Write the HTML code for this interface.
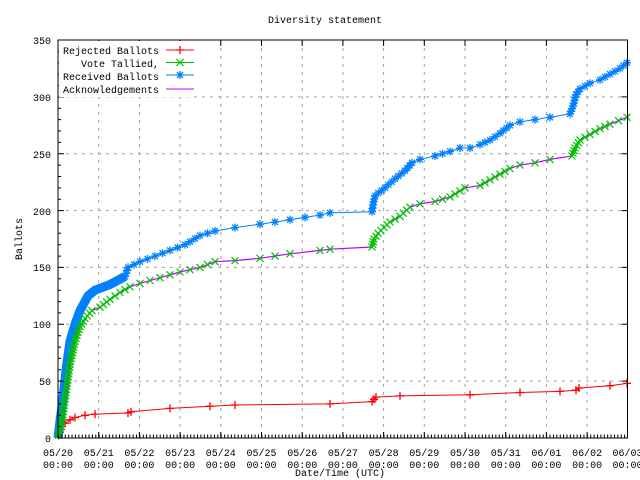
<!DOCTYPE html>
<html><head><meta charset="utf-8"><style>
body{margin:0;background:#fff}
svg{display:block;font-family:"Liberation Mono","DejaVu Sans Mono",monospace;font-size:10px}
</style></head><body>
<svg id="s" width="640" height="480" viewBox="0 0 640 480" xmlns="http://www.w3.org/2000/svg">
<defs>
<marker id="mp" markerUnits="userSpaceOnUse" markerWidth="10" markerHeight="10" refX="5" refY="5" overflow="visible"><path d="M1 5H9M5 1V9" stroke="#f00" stroke-width="1.3"/></marker>
<marker id="mx" markerUnits="userSpaceOnUse" markerWidth="10" markerHeight="10" refX="5" refY="5" overflow="visible"><path d="M1.5 1.5L8.5 8.5M8.5 1.5L1.5 8.5" stroke="#00c000" stroke-width="1.2"/></marker>
<marker id="ms" markerUnits="userSpaceOnUse" markerWidth="10" markerHeight="10" refX="5" refY="5" overflow="visible"><path d="M1 5H9M5 1V9M2 2L8 8M8 2L2 8" stroke="#0080ff" stroke-width="1.3"/></marker>
</defs>
<rect width="640" height="480" fill="#fff"/>
<g stroke="#a0a0a0" stroke-dasharray="3,5" stroke-width="1">
<path d="M58 381.1H627.5M58 324.3H627.5M58 267.4H627.5M58 210.6H627.5M58 153.7H627.5M58 96.9H627.5"/>
<path d="M98.7 40V438M139.4 40V438M180.1 40V438M220.8 40V438M261.5 40V438M302.2 40V438M342.9 40V438M383.6 40V438M424.3 40V438M465 40V438M505.7 40V438M546.4 40V438M587.1 40V438"/>
</g>
<polyline id="red" fill="none" stroke="#f00" stroke-width="1" marker-mid="url(#mp)" marker-end="url(#mp)"/>
<polyline id="bthick" fill="none" stroke="#0080ff" stroke-width="9"/>
<polyline id="blue" fill="none" stroke="#0080ff" stroke-width="1" marker-mid="url(#ms)" marker-end="url(#ms)"/>
<polyline id="purp" fill="none" stroke="#c000ff" stroke-width="1.2"/>
<polyline id="green" fill="none" stroke="none" marker-mid="url(#mx)" marker-end="url(#mx)"/>
<rect x="58" y="40" width="569.5" height="398" fill="none" stroke="#000" stroke-width="1"/>
<g stroke="#000" stroke-width="1">
<path d="M58 381.1h6M58 324.3h6M58 267.4h6M58 210.6h6M58 153.7h6M58 96.9h6M627.5 381.1h-6M627.5 324.3h-6M627.5 267.4h-6M627.5 210.6h-6M627.5 153.7h-6M627.5 96.9h-6"/>
<path d="M58 426.6h3M58 415.3h3M58 403.9h3M58 392.5h3M58 369.8h3M58 358.4h3M58 347.1h3M58 335.7h3M58 312.9h3M58 301.6h3M58 290.2h3M58 278.8h3M58 256.1h3M58 244.7h3M58 233.3h3M58 222h3M58 199.2h3M58 187.9h3M58 176.5h3M58 165.1h3M58 142.4h3M58 131h3M58 119.6h3M58 108.3h3M58 85.5h3M58 74.2h3M58 62.8h3M58 51.4h3"/>
<path d="M98.7 438v-6M139.4 438v-6M180.1 438v-6M220.8 438v-6M261.5 438v-6M302.2 438v-6M342.9 438v-6M383.6 438v-6M424.3 438v-6M465 438v-6M505.7 438v-6M546.4 438v-6M587.1 438v-6M98.7 40v6M139.4 40v6M180.1 40v6M220.8 40v6M261.5 40v6M302.2 40v6M342.9 40v6M383.6 40v6M424.3 40v6M465 40v6M505.7 40v6M546.4 40v6M587.1 40v6"/>
</g>
<path d="M58 436H627.5" stroke="#000" stroke-width="3" stroke-dasharray="1,2.39"/>
<g text-anchor="end">
<text x="51" y="442">0</text><text x="51" y="385">50</text><text x="51" y="328">100</text><text x="51" y="271">150</text><text x="51" y="215">200</text><text x="51" y="158">250</text><text x="51" y="101">300</text><text x="51" y="44">350</text>
</g>
<g text-anchor="middle">
<text x="58" y="456">05/20</text><text x="98.7" y="456">05/21</text><text x="139.4" y="456">05/22</text><text x="180.1" y="456">05/23</text><text x="220.8" y="456">05/24</text><text x="261.5" y="456">05/25</text><text x="302.2" y="456">05/26</text><text x="342.9" y="456">05/27</text><text x="383.6" y="456">05/28</text><text x="424.3" y="456">05/29</text><text x="465" y="456">05/30</text><text x="505.7" y="456">05/31</text><text x="546.4" y="456">06/01</text><text x="587.1" y="456">06/02</text><text x="627.5" y="456">06/03</text>
<text x="58" y="468">00:00</text><text x="98.7" y="468">00:00</text><text x="139.4" y="468">00:00</text><text x="180.1" y="468">00:00</text><text x="220.8" y="468">00:00</text><text x="261.5" y="468">00:00</text><text x="302.2" y="468">00:00</text><text x="342.9" y="468">00:00</text><text x="383.6" y="468">00:00</text><text x="424.3" y="468">00:00</text><text x="465" y="468">00:00</text><text x="505.7" y="468">00:00</text><text x="546.4" y="468">00:00</text><text x="587.1" y="468">00:00</text><text x="627.5" y="468">00:00</text>
<text x="340" y="476">Date/Time (UTC)</text>
<text x="325" y="23">Diversity statement</text>
<text transform="translate(22,239) rotate(-90)">Ballots</text>
</g>
<rect x="59" y="41" width="135" height="56" fill="#fff"/>
<g text-anchor="end">
<text x="159" y="54">Rejected Ballots</text>
<text x="159" y="67">Vote Tallied,</text>
<text x="159" y="80">Received Ballots</text>
<text x="159" y="93">Acknowledgements</text>
</g>
<path d="M166 50H194" stroke="#f00"/><path d="M176 50h8M180 46v8" stroke="#f00" stroke-width="1.3"/>
<path d="M166 62.5H194" stroke="#00c000"/><path d="M176.5 59l7 7M183.5 59l-7 7" stroke="#00c000" stroke-width="1.2"/>
<path d="M166 75H194" stroke="#0080ff"/><path d="M176 75h8M180 71v8M177 72l6 6M183 72l-6 6" stroke="#0080ff" stroke-width="1.3"/>
<path d="M166 89H194" stroke="#c000ff"/>
</svg>
<script>
function Y(v){return 438-1.1371*v}
function dens(a){var o=[];for(var i=0;i<a.length-1;i++){var p=a[i],q=a[i+1];var n=Math.max(1,Math.round(Math.abs(Y(q[1])-Y(p[1]))/3));for(var k=0;k<n;k++){var t=k/n;o.push([p[0]+(q[0]-p[0])*t,p[1]+(q[1]-p[1])*t]);}}o.push(a[a.length-1]);return o;}
function set(id,a,d){if(d)a=dens(a);document.getElementById(id).setAttribute('points',a.map(function(p){return p[0].toFixed(1)+','+Y(p[1]).toFixed(1)}).join(' '));}
var blue=[[58,0],[60,15],[63,35],[66,60],[70,85],[75,100],[80,112],[88,125],[95,130],[110,135],[125,142],[128,150],[140,155],[155,160],[170,165],[185,170],[200,178],[215,182],[235,185],[260,188],[290,192],[320,196],[330,198],[372,199],[373,205],[375,213],[385,220],[395,228],[405,235],[412,242],[420,245],[435,248],[450,252],[460,255],[470,255],[480,258],[490,262],[500,268],[510,275],[520,278],[535,280],[550,282],[570,285],[573,292],[576,302],[580,307],[590,312],[600,315],[610,320],[620,325],[627,330]];
var green=[[58,0],[62,15],[66,40],[70,65],[75,85],[80,98],[85,105],[92,112],[100,115],[110,122],[120,128],[130,133],[140,136],[160,141],[180,146],[200,150],[215,155],[235,156],[260,158],[290,162],[320,165],[330,166],[372,168],[374,175],[378,180],[390,190],[400,195],[410,203],[420,206],[435,208],[450,212],[465,220],[480,222],[490,227],[500,232],[510,237],[520,240],[535,242],[550,245],[572,248],[575,255],[580,262],[590,267],[600,272],[610,276],[627,282]];
var red=[[58,0],[60,5],[62,10],[65,13],[70,16],[75,18],[85,20],[95,21],[128,22],[131,23],[170,26],[210,28],[235,29],[330,30],[372,32],[374,34],[376,36],[400,37],[470,38],[520,40],[560,41],[576,42],[579,44],[610,46],[627,48]];
set('red',red,true);
set('bthick',blue.slice(0,11),false);
set('blue',blue,true);
set('purp',green,false);
set('green',green,true);
</script>
</body></html>
